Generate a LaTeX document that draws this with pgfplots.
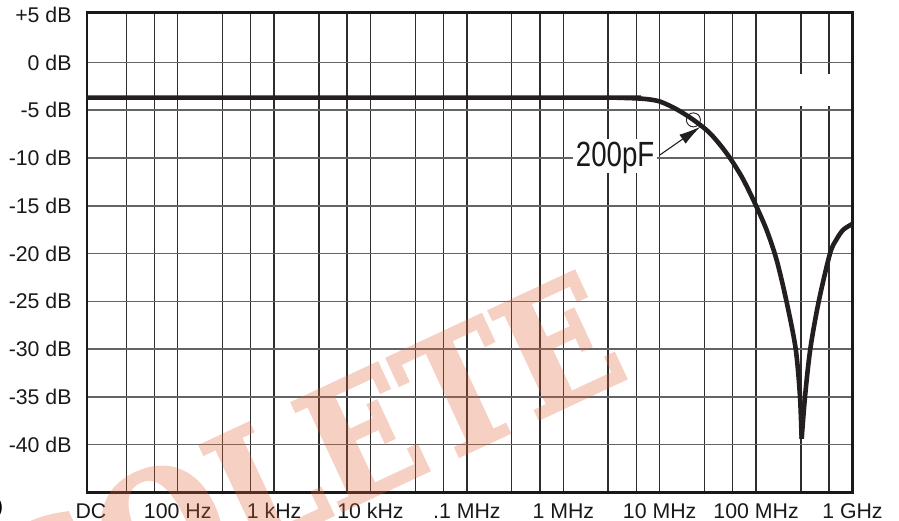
\documentclass[border=0pt]{standalone}
\usepackage{fontspec}
\setmainfont{Liberation Sans}
\newfontfamily\condfont{Liberation Sans}[FakeStretch=0.79]
\newfontfamily\wmfont{DejaVu Serif}[FakeStretch=0.88,FakeBold=1.5]
\usepackage{pgfplots}
\pgfplotsset{compat=1.18}
\usetikzlibrary{arrows.meta}
\definecolor{curve}{RGB}{35,31,32}
\definecolor{vgrid}{RGB}{45,45,45}
\definecolor{hgrid}{RGB}{100,100,100}
\definecolor{wm}{RGB}{222,98,55}
\begin{document}
\begin{tikzpicture}[x=1pt,y=1pt]
\path[use as bounding box] (0,0) rectangle (899,521);
\begin{axis}[
  at={(90,30)}, anchor=south west,
  scale only axis, width=765.7pt, height=480pt,
  xmin=1.056, xmax=9, ymin=-45, ymax=5.25,
  axis line style={line width=2.4pt, color=black!90},
  xtick={1.1,2,3,4,5,6,7,8,9},
  xticklabels={DC,100 Hz,1 kHz,10 kHz,.1 MHz,1 MHz,10 MHz,100 MHz,1 GHz},
  minor xtick={1.465,1.757,2,2.465,2.757,3,3.465,3.757,4,4.465,4.757,5,5.465,5.757,6,6.465,6.757,7,7.465,7.757,8,8.465,8.757},
  ytick={5,0,-5,-10,-15,-20,-25,-30,-35,-40},
  yticklabels={+5 dB,0 dB,-5 dB,-10 dB,-15 dB,-20 dB,-25 dB,-30 dB,-35 dB,-40 dB},
  minor ytick={0,-5,-10,-15,-20,-25,-30,-35,-40},
  major tick length=0pt, minor tick length=0pt,
  xminorgrids=true, yminorgrids=true,
  minor x grid style={vgrid, line width=1.3pt},
  minor y grid style={hgrid, line width=1.5pt},
  ticklabel style={font=\fontsize{21.3}{24}\selectfont, text=black!90},
  xticklabel style={anchor=base, inner sep=0pt, yshift=-25.7pt},
  yticklabel style={anchor=east, inner sep=0pt, xshift=-15pt},
  clip=false,
]
% blank patch at top right
\fill[white] (axis cs:8.21,-1.19) rectangle (axis cs:8.92,-4.54);
% response curve, left branch down to the notch
\addplot[curve, line width=4.6pt, smooth, tension=0.5] coordinates {
 (1.056,-3.68) (6.4,-3.68) (6.658,-3.72) (6.85,-3.82) (7.003,-4.09) (7.176,-4.9)
 (7.35,-6.01) (7.522,-7.41) (7.695,-9.51) (7.851,-11.96) (7.989,-14.76)
 (8.11,-17.55) (8.214,-20.7) (8.317,-25.07) (8.411,-29.97) (8.455,-34.86) (8.473,-39.4)
};
% right branch from the notch
\addplot[curve, line width=4.6pt, smooth, tension=0.5] coordinates {
 (8.473,-39.4) (8.509,-34.86) (8.563,-29.97) (8.649,-25.07) (8.767,-20.0)
 (8.836,-18.5) (8.906,-17.5) (9.0,-16.9)
};
% 200pF marker and label
\draw[curve, line width=0.9pt] (axis cs:7.35,-6.01) circle[radius=7pt];
\node[fill=white, inner sep=3pt, text height=25pt, text depth=3pt, anchor=base, text=black!90]
  at (axis cs:6.538,-10.91) {\condfont\fontsize{35}{40}\selectfont 200pF};
\draw[curve, line width=1.1pt, -{Latex[length=22pt,width=11pt]}]
  (axis cs:7.002,-9.68) -- (axis cs:7.425,-6.71);
\end{axis}
\node[anchor=west, inner sep=0pt, font=\fontsize{21.3}{24}\selectfont] at (-4,13) {)};
\begin{scope}[transparency group, opacity=0.3]
\clip (0,0) rectangle (899,521);
\node[rotate=25, text=wm, inner sep=0pt]
  at (197,8) {\wmfont\bfseries\fontsize{164}{164}\selectfont OBSOLETE};
\end{scope}
\end{tikzpicture}
\end{document}
